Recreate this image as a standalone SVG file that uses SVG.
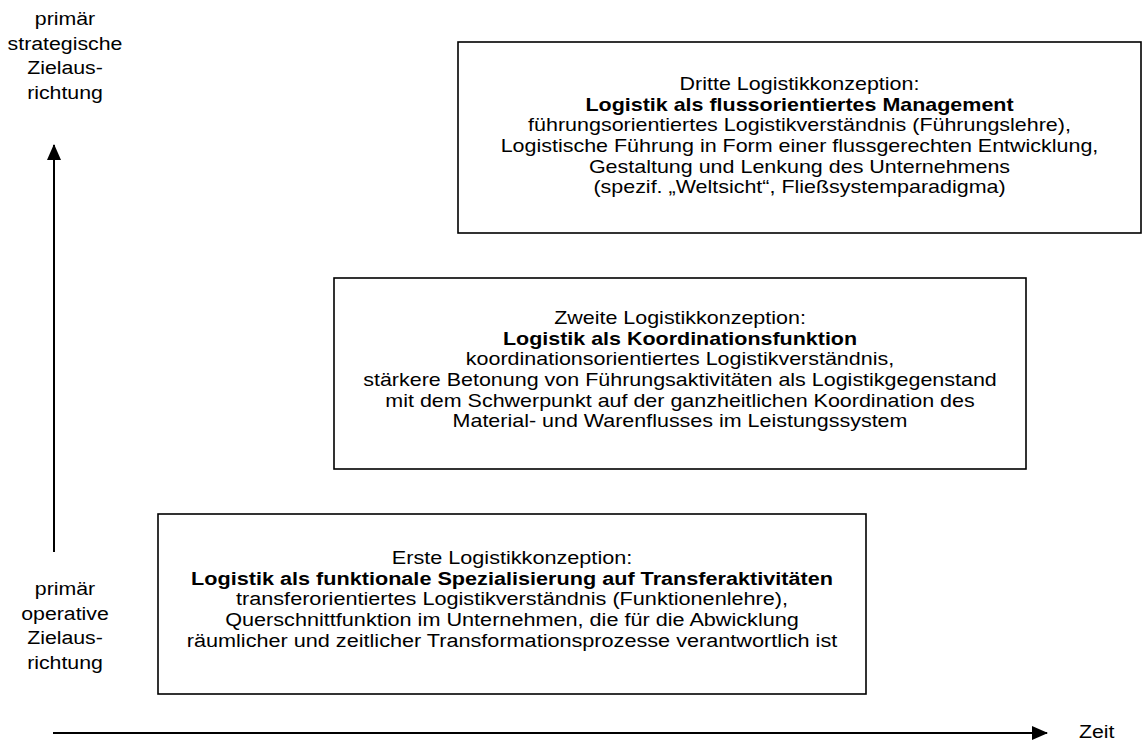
<svg xmlns="http://www.w3.org/2000/svg" width="1145" height="740" viewBox="0 0 1145 740">
  <style>
    text { font-family: "Liberation Sans", Arial, sans-serif; font-size: 17.75px; fill: #000; text-anchor: middle; }
    .b { font-weight: bold; }
    .box { fill: #fff; stroke: #000; stroke-width: 1.6; }
    .axis { stroke: #000; stroke-width: 2; fill: none; }
    .start { text-anchor: start; }
  </style>
  <defs>
    <marker id="head" viewBox="0 0 16 14" refX="15" refY="7" markerWidth="16" markerHeight="14" markerUnits="userSpaceOnUse" orient="auto">
      <path d="M0,0 L16,7 L0,14 Z" fill="#000"/>
    </marker>
  </defs>

  <!-- axes -->
  <g id="connectors">
    <line class="axis" x1="54" y1="552" x2="54" y2="145" marker-end="url(#head)"/>
    <line class="axis" x1="53" y1="733" x2="1047" y2="733" marker-end="url(#head)"/>
  </g>

  <!-- axis labels -->
  <g id="label-strategic" transform="translate(65 0) scale(1.2 1)">
    <text x="0" y="25">primär</text>
    <text x="0" y="49.7">strategische</text>
    <text x="0" y="74.3">Zielaus-</text>
    <text x="0" y="99">richtung</text>
  </g>
  <g id="label-operative" transform="translate(65 0) scale(1.2 1)">
    <text x="0" y="595.5">primär</text>
    <text x="0" y="620">operative</text>
    <text x="0" y="644.5">Zielaus-</text>
    <text x="0" y="669">richtung</text>
  </g>
  <g id="label-time" transform="translate(1079 0) scale(1.2 1)">
    <text class="start" x="0" y="738">Zeit</text>
  </g>

  <!-- third concept -->
  <g id="concept-3">
    <rect class="box" x="458" y="42" width="683" height="191"/>
    <g transform="translate(799.5 0) scale(1.21 1)">
      <text x="0" y="90">Dritte Logistikkonzeption:</text>
      <text class="b" x="0" y="110.7">Logistik als flussorientiertes Management</text>
      <text x="0" y="131.4">führungsorientiertes Logistikverständnis (Führungslehre),</text>
      <text x="0" y="152.1">Logistische Führung in Form einer flussgerechten Entwicklung,</text>
      <text x="0" y="172.8">Gestaltung und Lenkung des Unternehmens</text>
      <text x="0" y="193.5">(spezif. „Weltsicht“, Fließsystemparadigma)</text>
    </g>
  </g>

  <!-- second concept -->
  <g id="concept-2">
    <rect class="box" x="334" y="278" width="692" height="191"/>
    <g transform="translate(680 0) scale(1.21 1)">
      <text x="0" y="324">Zweite Logistikkonzeption:</text>
      <text class="b" x="0" y="344.7">Logistik als Koordinationsfunktion</text>
      <text x="0" y="365.4">koordinationsorientiertes Logistikverständnis,</text>
      <text x="0" y="386.1">stärkere Betonung von Führungsaktivitäten als Logistikgegenstand</text>
      <text x="0" y="406.8">mit dem Schwerpunkt auf der ganzheitlichen Koordination des</text>
      <text x="0" y="427.5">Material- und Warenflusses im Leistungssystem</text>
    </g>
  </g>

  <!-- first concept -->
  <g id="concept-1">
    <rect class="box" x="158" y="514" width="708" height="180"/>
    <g transform="translate(512 0) scale(1.22 1)">
      <text x="0" y="564">Erste Logistikkonzeption:</text>
      <text class="b" x="0" y="584.7">Logistik als funktionale Spezialisierung auf Transferaktivitäten</text>
      <text x="0" y="605.4">transferorientiertes Logistikverständnis (Funktionenlehre),</text>
      <text x="0" y="626.1">Querschnittfunktion im Unternehmen, die für die Abwicklung</text>
      <text x="0" y="646.8">räumlicher und zeitlicher Transformationsprozesse verantwortlich ist</text>
    </g>
  </g>
</svg>
